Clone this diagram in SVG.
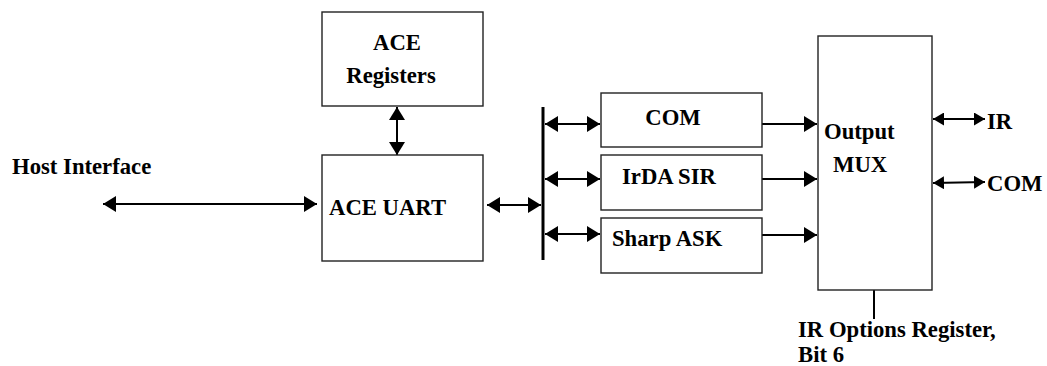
<svg xmlns="http://www.w3.org/2000/svg" width="1047" height="366" viewBox="0 0 1047 366">
  <defs>
    <marker id="ah" viewBox="0 0 13 16" refX="13" refY="8" markerWidth="13" markerHeight="16" markerUnits="userSpaceOnUse" orient="auto-start-reverse">
      <path d="M0,0 L13,8 L0,16 Z" fill="#000"/>
    </marker>
    <marker id="ahs" viewBox="0 0 11 13" refX="11" refY="6.5" markerWidth="11" markerHeight="13" markerUnits="userSpaceOnUse" orient="auto-start-reverse">
      <path d="M0,0 L11,6.5 L0,13 Z" fill="#000"/>
    </marker>
  </defs>
  <style>
    .box { fill: #fff; stroke: #222; stroke-width: 1.4; }
    .t { font-family: "Liberation Serif", "Times New Roman", serif; font-weight: bold; font-size: 22.7px; fill: #000; }
    .c { stroke: #000; stroke-width: 2; fill: none; }
  </style>
  <rect width="1047" height="366" fill="#fff"/>

  <g id="connectors">
    <line class="c" x1="103" y1="204" x2="317" y2="204" marker-start="url(#ah)" marker-end="url(#ah)"/>
    <line class="c" x1="397" y1="107" x2="397" y2="155" marker-start="url(#ah)" marker-end="url(#ah)"/>
    <line class="c" x1="487" y1="205" x2="541" y2="205" marker-start="url(#ah)" marker-end="url(#ah)"/>
    <line x1="543" y1="107" x2="543" y2="260" stroke="#000" stroke-width="3"/>
    <line class="c" x1="545" y1="124" x2="600" y2="124" marker-start="url(#ah)" marker-end="url(#ah)"/>
    <line class="c" x1="545" y1="179" x2="600" y2="179" marker-start="url(#ah)" marker-end="url(#ah)"/>
    <line class="c" x1="545" y1="234" x2="600" y2="234" marker-start="url(#ah)" marker-end="url(#ah)"/>
    <line class="c" x1="760" y1="124" x2="817" y2="124" marker-end="url(#ah)"/>
    <line class="c" x1="760" y1="179" x2="817" y2="179" marker-end="url(#ah)"/>
    <line class="c" x1="760" y1="235" x2="817" y2="235" marker-end="url(#ah)"/>
    <line class="c" x1="933" y1="119" x2="985" y2="119" marker-start="url(#ahs)" marker-end="url(#ahs)"/>
    <line class="c" x1="933" y1="183" x2="985" y2="182" marker-start="url(#ahs)" marker-end="url(#ahs)"/>
    <line class="c" x1="874" y1="290" x2="874" y2="319"/>
  </g>

  <g id="ace-registers">
    <rect class="box" x="322" y="12" width="161" height="94"/>
    <text class="t" x="397" y="50" text-anchor="middle">ACE</text>
    <text class="t" x="391" y="83" text-anchor="middle">Registers</text>
  </g>

  <g id="ace-uart">
    <rect class="box" x="322" y="155" width="161" height="106"/>
    <text class="t" x="329" y="215">ACE UART</text>
  </g>

  <g id="host-interface">
    <text class="t" x="12" y="174">Host Interface</text>
  </g>

  <g id="com">
    <rect class="box" x="601" y="93" width="161" height="54"/>
    <text class="t" x="673" y="125" text-anchor="middle">COM</text>
  </g>

  <g id="irda-sir">
    <rect class="box" x="601" y="155" width="161" height="55"/>
    <text class="t" x="622" y="184">IrDA SIR</text>
  </g>

  <g id="sharp-ask">
    <rect class="box" x="601" y="218" width="161" height="55"/>
    <text class="t" x="612" y="246">Sharp ASK</text>
  </g>

  <g id="output-mux">
    <rect class="box" x="818" y="36" width="114" height="254"/>
    <text class="t" x="824" y="139">Output</text>
    <text class="t" x="833" y="172">MUX</text>
  </g>

  <g id="ir-out">
    <text class="t" x="987" y="129">IR</text>
  </g>

  <g id="com-out">
    <text class="t" x="987" y="191">COM</text>
  </g>

  <g id="ir-options">
    <text class="t" x="798" y="337">IR Options Register,</text>
    <text class="t" x="798" y="362">Bit 6</text>
  </g>
</svg>
